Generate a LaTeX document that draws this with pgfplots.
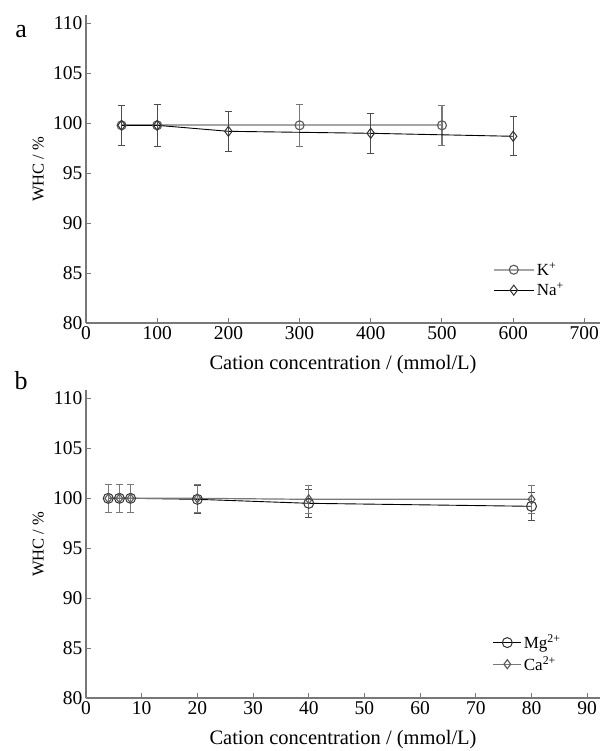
\documentclass[border=0pt]{standalone}
\usepackage{fontspec}
\setmainfont{Liberation Serif}
\usepackage{pgfplots}
\pgfplotsset{compat=1.18}
\definecolor{axgray}{RGB}{120,120,120}
\definecolor{lgray}{RGB}{165,165,165}

\pgfplotsset{
  whc/.style={
    scale only axis, width=514bp, height=307.5bp,
    axis x line*=bottom, axis y line*=left,
    axis line style={draw=axgray, line width=1.6bp},
    ymin=80, ymax=110.8, ytick={80,85,...,110},
    major tick length=5bp, tick align=inside,
    tick style={draw=axgray, line width=1bp},
    /pgf/number format/assume math mode=true,
    tick label style={font=\fontsize{19.5bp}{22bp}\selectfont},
    xlabel={Cation concentration / (mmol/L)},
    ylabel={WHC / \%},
    every axis x label/.style={at={(axis description cs:0.5,-0.134)}, anchor=center,
      font=\fontsize{20.5bp}{24bp}\selectfont},
    every axis y label/.style={at={(axis description cs:-0.093,0.5)}, rotate=90, anchor=center,
      font=\fontsize{16.5bp}{19bp}\selectfont},
    legend style={draw=none, fill=none, font=\fontsize{17bp}{20bp}\selectfont,
      legend cell align=left, row sep=2bp},
    clip=false,
  },
  grayser/.style={draw=lgray, line width=2.2bp, mark size=4.5bp,
    mark options={draw=black!65, fill=black!12, line width=1.1bp, solid},
    error bars/y dir=both, error bars/y explicit,
    error bars/error bar style={draw=axgray, line width=1.3bp},
    error bars/error mark options={rotate=90, mark size=3.5bp, line width=1.3bp, draw=axgray}},
  blackser/.style={draw=black, line width=0.9bp, mark size=5bp,
    mark options={draw=black!80, fill=white, line width=1bp, solid},
    error bars/y dir=both, error bars/y explicit,
    error bars/error bar style={draw=black!70, line width=1.1bp},
    error bars/error mark options={rotate=90, mark size=3.5bp, line width=1.1bp, draw=black!70}},
}

\begin{document}
\begin{tikzpicture}
\useasboundingbox (-86bp,-53bp) rectangle (516bp,698bp);

% panel b
\begin{axis}[whc, at={(0,0)}, xmin=0, xmax=92.3, xtick={0,10,...,90},
  legend style={at={(axis description cs:0.785,0.145)}, anchor=west},
  legend image code/.code={\draw[mark repeat=2,mark phase=2,#1] plot coordinates {(0bp,0bp) (14bp,0bp) (28bp,0bp)};}]
\addplot[blackser, mark=o] coordinates {
  (4,100.0) +- (0,1.4)
  (6,100.0) +- (0,1.4)
  (8,100.0) +- (0,1.4)
  (20,99.9) +- (0,1.4)
  (40,99.5) +- (0,1.4)
  (80,99.2) +- (0,1.4)};
\addlegendentry{Mg\textsuperscript{2+}}
\addplot[grayser, mark=diamond, draw=axgray, line width=1.2bp] coordinates {
  (4,100.0) +- (0,1.4)
  (6,100.0) +- (0,1.4)
  (8,100.0) +- (0,1.4)
  (20,100.0) +- (0,1.4)
  (40,99.9) +- (0,1.4)
  (80,99.9) +- (0,1.4)};
\addlegendentry{Ca\textsuperscript{2+}}
\node at (axis description cs:-0.126,1.0325) {\fontsize{26bp}{30bp}\selectfont b};
\end{axis}

% panel a
\begin{axis}[whc, at={(0,375bp)}, xmin=0, xmax=722, xtick={0,100,...,700},
  legend style={at={(axis description cs:0.785,0.14)}, anchor=west},
  legend image code/.code={\draw[mark repeat=2,mark phase=2,#1] plot coordinates {(0bp,0bp) (20bp,0bp) (40bp,0bp)};}]
\addplot[grayser, mark=o] coordinates {
  (50,99.8) +- (0,2.0)
  (100,99.8) +- (0,2.1)
  (300,99.8) +- (0,2.1)
  (500,99.8) +- (0,2.0)};
\addlegendentry{K\textsuperscript{+}}
\addplot[blackser, mark=diamond] coordinates {
  (50,99.8) +- (0,2.0)
  (100,99.8) +- (0,2.1)
  (200,99.2) +- (0,2.0)
  (400,99.0) +- (0,2.0)
  (600,98.7) +- (0,1.95)};
\addlegendentry{Na\textsuperscript{+}}
\node at (axis description cs:-0.126,0.948) {\fontsize{26bp}{30bp}\selectfont a};
\end{axis}
\end{tikzpicture}
\end{document}
